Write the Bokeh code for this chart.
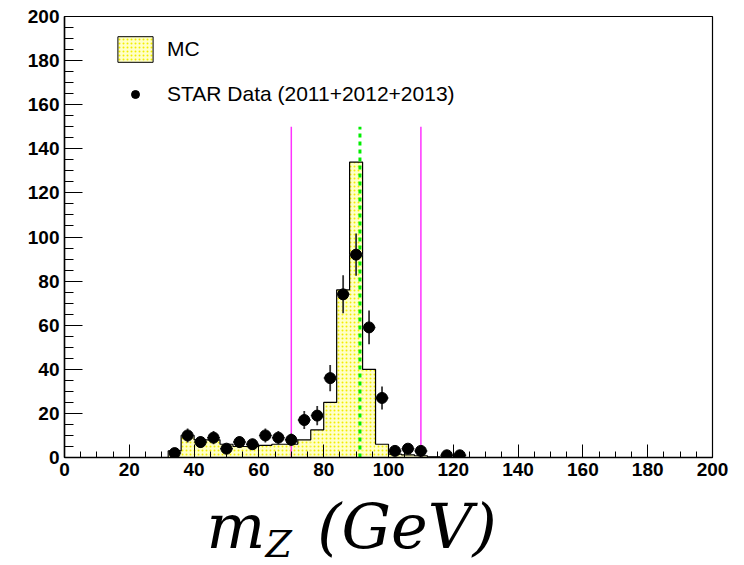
import numpy as np
from bokeh.plotting import figure
from bokeh.layouts import column
from bokeh.models import (Range1d, SingleIntervalTicker, Legend, LegendItem, Label, ColumnDataSource)
from bokeh.embed import file_html
from bokeh.resources import INLINE

# ---- data ----
mc_lo = [32, 36, 40, 44, 48, 52, 56, 60, 64, 68, 72, 76, 80, 84, 88, 92, 96, 100, 104, 108, 112]
mc_hi = [36, 40, 44, 48, 52, 56, 60, 64, 68, 72, 76, 80, 84, 88, 92, 96, 100, 104, 108, 112, 116]
mc_counts = [3, 10, 8, 8, 6, 5, 5, 5.5, 6, 6, 8, 12.5, 25, 76, 134, 40, 6, 1.5, 1.2, 0.8, 0.3]

data_x = [34, 38, 42, 46, 50, 54, 58, 62, 66, 70, 74, 78, 82, 86, 90, 94, 98, 102, 106, 110, 118, 122]
data_counts = [2, 10, 7, 9, 4, 7, 6, 10, 9, 8, 17, 19, 36, 74, 92, 59, 27, 3, 4, 3, 1, 1]
data_xerr = 2.0

z_mass = 91.19
window_lo, window_hi = 70, 110
marker_line_top = 150

x_ticks_interval = 20
y_ticks_interval = 20

MC_FILL = "#ffffc8"
MC_DOTS = "#f2ee00"

# ---- main figure ----
p = figure(width=744, height=490, output_backend="svg", toolbar_location=None, title=None,
           x_range=Range1d(0, 200), y_range=Range1d(0, 200),
           min_border_left=64, min_border_right=32, min_border_top=16, min_border_bottom=33)
p.xgrid.visible = False
p.ygrid.visible = False
p.outline_line_color = "black"
p.outline_line_width = 1.2
p.background_fill_color = "white"
p.border_fill_color = "white"

# MC histogram fill
mc_src = ColumnDataSource(dict(left=mc_lo, right=mc_hi, top=mc_counts, bottom=[0] * len(mc_lo)))
p.quad(left="left", right="right", top="top", bottom="bottom", source=mc_src,
       fill_color=MC_FILL, hatch_pattern="dot", hatch_color=MC_DOTS, hatch_scale=4,
       hatch_weight=1.2, line_alpha=0)

# MC outline (steps)
ox = [mc_lo[0]]
oy = [0]
for lo, hi, h in zip(mc_lo, mc_hi, mc_counts):
    ox += [lo, hi]
    oy += [h, h]
ox.append(mc_hi[-1])
oy.append(0)
p.line(ox, oy, line_color="black", line_width=1.2)

# vertical marker lines
p.segment(x0=[window_lo, window_hi], y0=[0, 0], x1=[window_lo, window_hi],
          y1=[marker_line_top, marker_line_top], line_color="#ff33ff", line_width=1.5)
p.segment(x0=[z_mass], y0=[0], x1=[z_mass], y1=[marker_line_top],
          line_color="#00ee00", line_width=3, line_dash="4 4")

# data points with errors
dy = np.sqrt(np.array(data_counts, dtype=float))
dx = np.array(data_x, dtype=float)
dc = np.array(data_counts, dtype=float)
p.segment(x0=dx, y0=dc - dy, x1=dx, y1=dc + dy, line_color="#333333", line_width=1.8)
p.segment(x0=dx - data_xerr, y0=dc, x1=dx + data_xerr, y1=dc, line_color="#333333", line_width=1.5)
p.scatter(dx, dc, size=11, marker="circle", fill_color="black", line_color="black")

# legend proxy renderers (outside the visible range, used only for legend glyphs)
mc_leg = p.quad(left=[-30], right=[-20], top=[-20], bottom=[-30], fill_color=MC_FILL,
                hatch_pattern="dot", hatch_color=MC_DOTS, hatch_scale=4, hatch_weight=1.2,
                line_color="black", line_width=1)
dat_leg = p.scatter(x=[-30], y=[-30], size=8, marker="circle", fill_color="black", line_color="black")

leg_common = dict(border_line_alpha=0, background_fill_alpha=0, padding=0, margin=0,
                  label_text_font="Liberation Sans", label_text_font_size="21px",
                  label_text_color="black", label_standoff=10, glyph_width=44)
leg1 = Legend(items=[LegendItem(label="MC", renderers=[mc_leg])], location=(49, 392),
              glyph_height=32, **leg_common)
leg2 = Legend(items=[LegendItem(label="STAR Data (2011+2012+2013)", renderers=[dat_leg])],
              location=(49, 351), glyph_height=20, **leg_common)
p.add_layout(leg1)
p.add_layout(leg2)

# axes styling
for ax, tin, mtin in ((p.xaxis[0], 13, 6), (p.yaxis[0], 18, 9)):
    ax.major_label_text_font = "Liberation Sans"
    ax.major_label_text_font_style = "bold"
    ax.major_label_text_font_size = "19px"
    ax.major_label_text_color = "black"
    ax.axis_line_color = "black"
    ax.axis_line_width = 1.5
    ax.major_tick_in = tin
    ax.major_tick_out = 0
    ax.minor_tick_in = mtin
    ax.minor_tick_out = 0
    ax.major_tick_line_color = "black"
    ax.minor_tick_line_color = "black"
p.xaxis.ticker = SingleIntervalTicker(interval=x_ticks_interval, num_minor_ticks=4)
p.yaxis.ticker = SingleIntervalTicker(interval=y_ticks_interval, num_minor_ticks=4)
p.xaxis.major_label_standoff = 5
p.yaxis.major_label_standoff = 5

# ---- x-axis title strip (frame aligned with the main plot horizontally) ----
t = figure(width=744, height=75, output_backend="svg", toolbar_location=None, title=None,
           x_range=Range1d(0, 200), y_range=Range1d(0, 75),
           x_axis_location=None, y_axis_location=None,
           min_border_left=64, min_border_right=32, min_border_top=0, min_border_bottom=0)
t.xgrid.visible = False
t.ygrid.visible = False
t.outline_line_color = None
t.background_fill_color = "white"
t.border_fill_color = "white"

lab_font = "DejaVu Serif"
t.add_layout(Label(x=43.8, y=39.5, text="m", text_font=lab_font, text_font_style="italic",
                   text_font_size="62px", text_baseline="alphabetic", text_color="black"))
t.add_layout(Label(x=62.0, y=22, text="Z", text_font=lab_font, text_font_style="italic",
                   text_font_size="38px", text_baseline="alphabetic", text_color="black"))
t.add_layout(Label(x=78.0, y=39.5, text="(GeV)", text_font=lab_font, text_font_style="italic",
                   text_font_size="62px", text_baseline="alphabetic", text_color="black"))

layout = column(p, t, spacing=0)
open("out.html", "w").write(file_html(layout, INLINE))
